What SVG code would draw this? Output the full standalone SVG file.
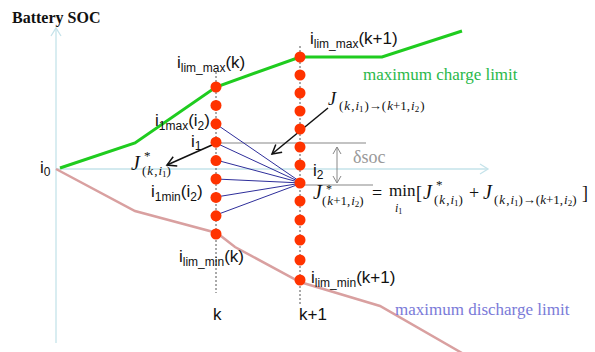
<svg xmlns="http://www.w3.org/2000/svg" width="595" height="352" viewBox="0 0 595 352">
<defs>
<style>
.s{font-family:"Liberation Sans",Arial,sans-serif;fill:#111}
.r{font-family:"Liberation Serif","Times New Roman",serif;fill:#111}
.it{font-style:italic}
.dot{fill:#ff3300}
.gl{stroke:#888;stroke-width:1.2;fill:none}
.bl{stroke:#2e2e9a;stroke-width:1;fill:none}
.ax{stroke:#c5e3ea;stroke-width:1.3;fill:none}
.dash{stroke:#555;stroke-width:1;stroke-dasharray:2 2;fill:none}
</style>
<marker id="ax" markerWidth="12" markerHeight="12" refX="10" refY="6" orient="auto" markerUnits="userSpaceOnUse"><polyline points="2,1 10,6 2,11" fill="none" stroke="#c5e3ea" stroke-width="1.3"/></marker>
<marker id="ak" markerWidth="14" markerHeight="14" refX="12" refY="7" orient="auto" markerUnits="userSpaceOnUse"><polyline points="3,2 12,7 3,12" fill="none" stroke="#111" stroke-width="1.5"/></marker>
<marker id="ag" markerWidth="12" markerHeight="12" refX="10" refY="6" orient="auto-start-reverse" markerUnits="userSpaceOnUse"><polyline points="3,2 10,6 3,10" fill="none" stroke="#888" stroke-width="1"/></marker>
</defs>
<rect width="595" height="352" fill="#fff"/>

<g id="axes">
<line class="ax" x1="56" y1="343" x2="56" y2="28" marker-end="url(#ax)"/>
<line class="ax" x1="56" y1="169" x2="488" y2="169" marker-end="url(#ax)"/>
</g>
<text class="r" x="12" y="23" font-size="16" font-weight="bold">Battery SOC</text>

<g id="limits">
<polyline points="60,168 135,143 216,87 300,57 382,57 462,31" fill="none" stroke="#1fcc1f" stroke-width="3"/>
<polyline points="56,169 135,211 217,233 235,247 300,282 380,306 462,353" fill="none" stroke="#d9a0a0" stroke-width="2.5"/>
</g>

<g id="grid">
<line class="dash" x1="216" y1="72" x2="216" y2="293"/>
<line class="dash" x1="300" y1="46" x2="300" y2="306"/>
<line class="gl" x1="216" y1="143" x2="366" y2="143"/>
<line class="gl" x1="300" y1="185" x2="373" y2="185"/>
</g>

<g id="connectors">
<line class="bl" x1="216" y1="124" x2="302" y2="183"/>
<line class="bl" x1="216" y1="143" x2="302" y2="183"/>
<line class="bl" x1="216" y1="160" x2="302" y2="183"/>
<line class="bl" x1="216" y1="179" x2="302" y2="183"/>
<line class="bl" x1="216" y1="197" x2="302" y2="183"/>
<line class="bl" x1="216" y1="215" x2="302" y2="183"/>
<line x1="328" y1="108" x2="272" y2="154" stroke="#111" stroke-width="1.5" marker-end="url(#ak)"/>
<line x1="212" y1="145" x2="167" y2="165" stroke="#111" stroke-width="1.5" marker-end="url(#ak)"/>
<line x1="337" y1="147" x2="337" y2="183" stroke="#888" stroke-width="1" marker-start="url(#ag)" marker-end="url(#ag)"/>
</g>

<g id="stage-k">
<circle class="dot" cx="216" cy="87" r="5.5"/>
<circle class="dot" cx="216" cy="105.4" r="5.5"/>
<circle class="dot" cx="216" cy="123.8" r="5.5"/>
<circle class="dot" cx="216" cy="142.2" r="5.5"/>
<circle class="dot" cx="216" cy="160.6" r="5.5"/>
<circle class="dot" cx="216" cy="179" r="5.5"/>
<circle class="dot" cx="216" cy="197.4" r="5.5"/>
<circle class="dot" cx="216" cy="215.8" r="5.5"/>
<circle class="dot" cx="216" cy="234" r="5.5"/>
</g>

<g id="stage-k1">
<circle class="dot" cx="300" cy="57" r="5.5"/>
<circle class="dot" cx="300" cy="75" r="5.5"/>
<circle class="dot" cx="300" cy="93" r="5.5"/>
<circle class="dot" cx="300" cy="111" r="5.5"/>
<circle class="dot" cx="300" cy="129" r="5.5"/>
<circle class="dot" cx="300" cy="147" r="5.5"/>
<circle class="dot" cx="300" cy="165" r="5.5"/>
<circle class="dot" cx="300" cy="183" r="5.5"/>
<circle class="dot" cx="300" cy="201" r="5.5"/>
<circle class="dot" cx="300" cy="220" r="5.5"/>
<circle class="dot" cx="300" cy="240" r="5.5"/>
<circle class="dot" cx="300" cy="260" r="5.5"/>
<circle class="dot" cx="300" cy="280" r="5.5"/>
</g>

<g id="labels" class="s">
<text class="s" x="40" y="173" font-size="17">i<tspan font-size="12" dy="3">0</tspan></text>
<text class="s" x="177" y="68" font-size="17">i<tspan font-size="12" dy="4">lim_max</tspan><tspan dy="-4">(k)</tspan></text>
<text class="s" x="310" y="44" font-size="17">i<tspan font-size="12" dy="4">lim_max</tspan><tspan dy="-4">(k+1)</tspan></text>
<text class="s" x="155" y="126" font-size="17">i<tspan font-size="12" dy="4">1max</tspan><tspan dy="-4">(i</tspan><tspan font-size="12" dy="4">2</tspan><tspan dy="-4">)</tspan></text>
<text class="s" x="191" y="147" font-size="17">i<tspan font-size="12" dy="3">1</tspan></text>
<text class="s" x="151" y="197" font-size="17">i<tspan font-size="12" dy="4">1min</tspan><tspan dy="-4">(i</tspan><tspan font-size="12" dy="4">2</tspan><tspan dy="-4">)</tspan></text>
<text class="s" x="179" y="262" font-size="17">i<tspan font-size="12" dy="4">lim_min</tspan><tspan dy="-4">(k)</tspan></text>
<text class="s" x="311" y="283" font-size="17">i<tspan font-size="12" dy="4">lim_min</tspan><tspan dy="-4">(k+1)</tspan></text>
<text class="s" x="313" y="176" font-size="17">i<tspan font-size="12" dy="3">2</tspan></text>
<text class="s" x="213" y="320" font-size="17">k</text>
<text class="s" x="299" y="320" font-size="17">k+1</text>
<text class="r" x="363" y="80" font-size="17" style="fill:#2ab84a">maximum charge limit</text>
<text class="r" x="395" y="315" font-size="17" style="fill:#7a7ad8">maximum discharge limit</text>
<text class="r" x="353" y="163" font-size="18" style="fill:#999">δsoc</text>
</g>

<g id="formulas" class="r">
<text class="r" x="328" y="105" font-size="18"><tspan class="it">J</tspan><tspan font-size="13" dy="5" x="339">(</tspan><tspan class="it" font-size="13" dx="1">k</tspan><tspan font-size="13" dx="1">,</tspan><tspan class="it" font-size="13" dx="1">i</tspan><tspan font-size="9" dy="2">1</tspan><tspan font-size="13" dy="-2" dx="1">)→(</tspan><tspan class="it" font-size="13" dx="1">k</tspan><tspan font-size="13">+1,</tspan><tspan class="it" font-size="13" dx="1">i</tspan><tspan font-size="9" dy="2">2</tspan><tspan font-size="13" dy="-2" dx="1">)</tspan></text>
<text class="r" x="131" y="170" font-size="20"><tspan class="it">J</tspan><tspan font-size="13" x="144" y="160">*</tspan><tspan font-size="13" x="142" y="175">(</tspan><tspan class="it" font-size="13" dx="1">k</tspan><tspan font-size="13" dx="1">,</tspan><tspan class="it" font-size="13" dx="1">i</tspan><tspan font-size="9" dy="2">1</tspan><tspan font-size="13" dy="-2">)</tspan></text>
<text class="r" x="313" y="199" font-size="20"><tspan class="it">J</tspan><tspan font-size="12" x="326" y="193">*</tspan><tspan font-size="13" x="322" y="205">(</tspan><tspan class="it" font-size="13" dx="1">k</tspan><tspan font-size="13">+1,</tspan><tspan class="it" font-size="13" dx="1">i</tspan><tspan font-size="9" dy="2">2</tspan><tspan font-size="13" dy="-2">)</tspan></text>
<text class="r" x="372" y="199" font-size="18">=</text>
<text class="r" x="389" y="196" font-size="17">min</text>
<text class="r" x="416" y="199" font-size="18">[</text>
<text class="r it" x="395" y="212" font-size="12">i<tspan font-size="8" dy="2" font-style="normal">1</tspan></text>
<text class="r" x="423" y="199" font-size="20"><tspan class="it">J</tspan><tspan font-size="13" x="436" y="189">*</tspan><tspan font-size="13" x="434" y="204">(</tspan><tspan class="it" font-size="13" dx="1">k</tspan><tspan font-size="13" dx="1">,</tspan><tspan class="it" font-size="13" dx="1">i</tspan><tspan font-size="9" dy="2">1</tspan><tspan font-size="13" dy="-2">)</tspan></text>
<text class="r" x="469" y="199" font-size="18">+</text>
<text class="r" x="483" y="199" font-size="20"><tspan class="it">J</tspan><tspan font-size="13" x="494" y="204">(</tspan><tspan class="it" font-size="13" dx="1">k</tspan><tspan font-size="13" dx="1">,</tspan><tspan class="it" font-size="13" dx="1">i</tspan><tspan font-size="9" dy="2">1</tspan><tspan font-size="13" dy="-2">)→(</tspan><tspan class="it" font-size="13">k</tspan><tspan font-size="13">+1,</tspan><tspan class="it" font-size="13" dx="1">i</tspan><tspan font-size="9" dy="2">2</tspan><tspan font-size="13" dy="-2">)</tspan></text>
<text class="r" x="582" y="199" font-size="18">]</text>
</g>
</svg>
